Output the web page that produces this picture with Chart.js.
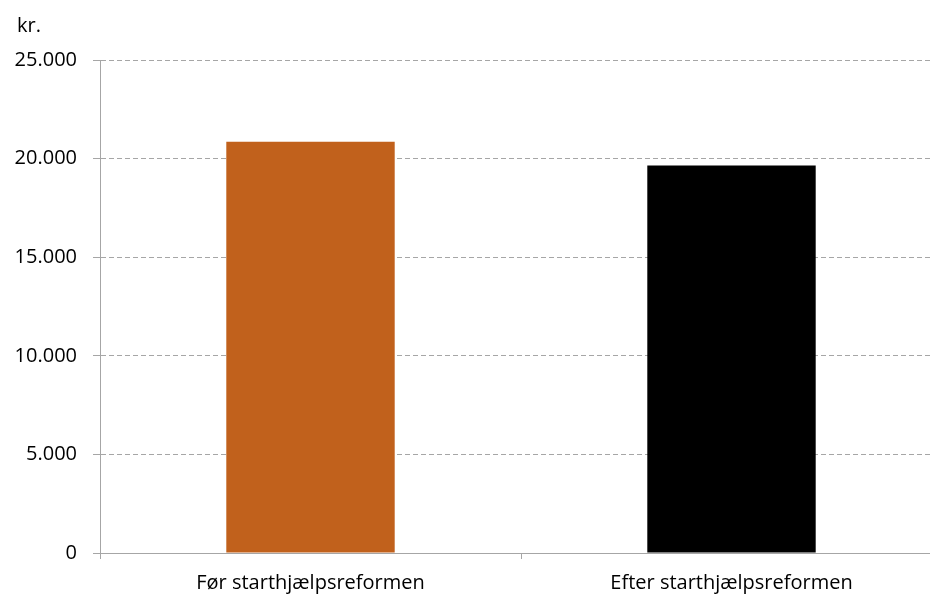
<!DOCTYPE html>
<html>
<head>
<meta charset="utf-8">
<script src="https://cdn.jsdelivr.net/npm/chart.js@4/dist/chart.umd.min.js"></script>
<style>
  html, body { margin: 0; padding: 0; background: #fff; overflow: hidden; }
  #wrap { position: relative; width: 945px; height: 595px; }
</style>
</head>
<body>
<div id="wrap"><canvas id="c"></canvas></div>
<script>
const categories = ['Før starthjælpsreformen', 'Efter starthjælpsreformen'];
const values = [20850, 19650];
const barColors = ['#C1611C', '#000000'];
const yTicks = [0, 5000, 10000, 15000, 20000, 25000];
const unitLabel = 'kr.';

function fmt(v) {
  return String(v).replace(/\B(?=(\d{3})+(?!\d))/g, '.');
}

const FONT = 'Open Sans';

const unitPlugin = {
  id: 'unitLabel',
  afterDraw(chart) {
    const ctx = chart.ctx;
    ctx.save();
    ctx.font = '20px "' + FONT + '"';
    ctx.fillStyle = '#000';
    ctx.textAlign = 'left';
    ctx.textBaseline = 'middle';
    ctx.fillText(unitLabel, 17, 26);
    ctx.restore();
  }
};

new Chart(document.getElementById('c'), {
  type: 'bar',
  data: {
    labels: categories,
    datasets: [{
      data: values,
      backgroundColor: barColors,
      borderWidth: 0,
      barPercentage: 0.4,
      categoryPercentage: 1.0
    }]
  },
  options: {
    responsive: true,
    maintainAspectRatio: false,
    animation: false,
    layout: { padding: { top: 60, right: 3, bottom: 0, left: 0 } },
    plugins: { legend: { display: false }, tooltip: { enabled: false } },
    scales: {
      x: {
        grid: {
          display: true,
          drawOnChartArea: false,
          drawTicks: true,
          tickLength: 6,
          tickColor: '#A6A6A6',
          offset: true
        },
        border: { display: true, color: '#A6A6A6', width: 1 },
        ticks: {
          color: '#000',
          font: { family: FONT, size: 20 },
          padding: 12,
          maxRotation: 0
        },
        afterFit(scale) { scale.height = 42; }
      },
      y: {
        min: 0,
        max: 25000,
        afterBuildTicks(scale) { scale.ticks = yTicks.map(v => ({ value: v })); },
        grid: {
          color: '#A6A6A6',
          lineWidth: 1,
          drawTicks: true,
          tickLength: 7,
          tickColor: '#A6A6A6',
          tickBorderDash: []
        },
        border: { display: true, color: '#A6A6A6', width: 1, dash: [5, 3] },
        ticks: {
          color: '#000',
          font: { family: FONT, size: 20 },
          padding: 16,
          callback: (v) => fmt(v)
        },
        afterFit(scale) { scale.width = 100; }
      }
    }
  },
  plugins: [unitPlugin]
});
</script>
</body>
</html>
